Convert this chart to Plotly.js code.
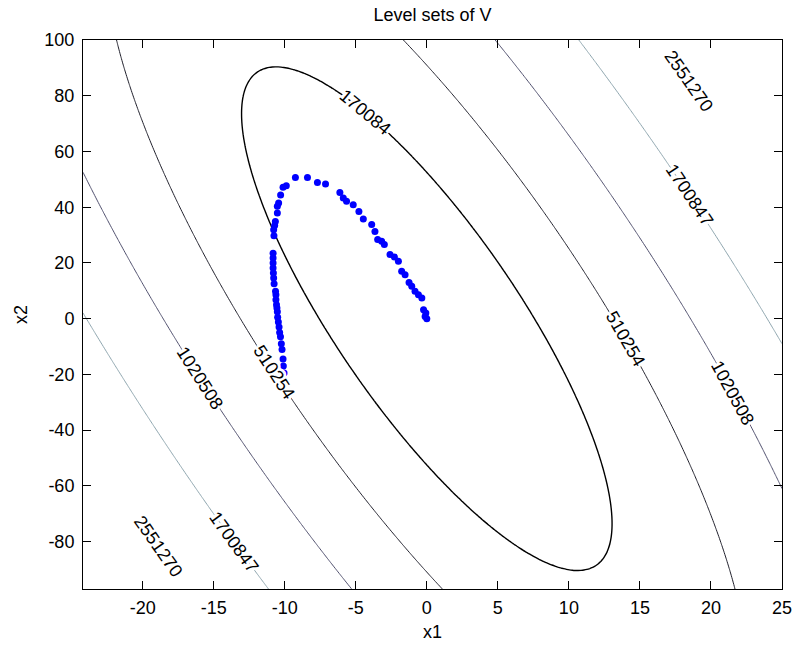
<!DOCTYPE html>
<html>
<head>
<meta charset="utf-8">
<script src="https://cdn.plot.ly/plotly-3.0.1.min.js"></script>
<style>html,body{margin:0;padding:0;background:#fff}#chart{width:792px;height:649px}</style>
</head>
<body>
<div id="chart"></div>
<script>
// Level values of V (as labelled in the chart)
const levels = [170084, 510254, 1020508, 1700847, 2551270];
// Contour line colours (bone colormap picked by level)
const levelColors = ['#000000', '#20202c', '#50506e', '#8fa6af', '#ffffff'];
// Quadratic form V(x) = x' P x, coefficients estimated from the drawn level sets
const P11 = 2963, P12 = 348, P22 = 61.7;
// Axis extents
const x1Range = [-24.2, 25.0005];
const x2Range = [-97, 100.0005];

// Trajectory points
const trajX1 = [-10.05,-10.10,-10.12,-10.19,-10.24,-10.30,-10.36,-10.40,-10.45,-10.50,-10.52,-10.55,-10.58,-10.62,-10.62,-10.65,-10.75,-10.78,-10.80,-10.82,-10.82,-10.82,-10.82,-10.76,-10.78,-10.71,-10.66,-10.52,-10.52,-10.43,-10.29,-10.12,-9.89,-9.25,-8.40,-7.70,-7.13,-6.12,-5.88,-5.65,-5.18,-4.78,-4.47,-3.88,-3.65,-3.46,-3.18,-2.99,-2.59,-2.28,-2.00,-1.77,-1.53,-1.25,-1.06,-0.83,-0.59,-0.35,-0.23,-0.07,-0.12,0.0];
const trajX2 = [-19.5,-17.0,-14.5,-11.1,-9.0,-6.5,-5.0,-3.0,-1.2,0.5,2.5,3.8,5.0,6.8,8.6,9.8,12.5,14.6,16.4,18.2,20.0,21.8,23.5,29.8,31.9,33.4,34.9,37.9,40.3,41.5,44.4,47.2,47.7,50.7,50.7,48.9,48.3,45.3,43.3,42.1,40.9,38.5,35.8,33.8,31.3,28.4,27.8,26.6,23.0,22.1,20.6,17.0,15.8,13.0,11.6,9.8,8.6,7.4,3.2,2.0,0.8,0.0];

const xTicks = [-20,-15,-10,-5,0,5,10,15,20,25];
const yTicks = [-80,-60,-40,-20,0,20,40,60,80,100];

// Which level each contour label belongs to, and roughly where it sits
const labelLevel = [0, 1, 1, 2, 2, 3, 3, 4, 4];
const labelNearX1 = [-4.3, 13.2, -10.97, 20.8, -16.3, 18.05, -13.66, 18.1, -19.0];
const labelNearX2 = [73.0, -7.0, -19.6, -25.6, -21.7, 43.2, -80.5, 83.8, -82.0];

const W = 792, H = 649, M = {l: 83, r: 10, t: 40, b: 60};
const fontFam = 'Liberation Sans, Arial, Helvetica, sans-serif';
const FS = 18;
const halo = ['3px 0 0 #fff','-3px 0 0 #fff','0 3px 0 #fff','0 -3px 0 #fff',
              '2px 2px 0 #fff','-2px -2px 0 #fff','2px -2px 0 #fff','-2px 2px 0 #fff',
              '0 0 3px #fff'].join(', ');

const V = (x, y) => P11*x*x + 2*P12*x*y + P22*y*y;

// grid
const N = 241;
const gx = [], gy = [];
for (let i = 0; i < N; i++) {
  gx.push(x1Range[0] + (x1Range[1]-x1Range[0]) * i/(N-1));
  gy.push(x2Range[0] + (x2Range[1]-x2Range[0]) * i/(N-1));
}
const gz = gy.map(y => gx.map(x => V(x, y)));

const traces = levels.map((L, i) => ({
  type: 'contour',
  x: gx, y: gy, z: gz,
  autocontour: false,
  contours: {start: L, end: L, size: L, coloring: 'none', showlabels: false},
  line: {color: levelColors[i], width: i === 0 ? 1.4 : 1, smoothing: 1},
  showscale: false,
  hoverinfo: 'skip'
}));

traces.push({
  type: 'scatter',
  mode: 'markers',
  x: trajX1, y: trajX2,
  marker: {color: '#0000ff', size: 7},
  hoverinfo: 'skip',
  showlegend: false
});

// contour labels: snap to level curve, rotate along it
const sx = (W - M.l - M.r) / (x1Range[1] - x1Range[0]);
const sy = (H - M.t - M.b) / (x2Range[1] - x2Range[0]);
const annotations = labelLevel.map((li, k) => {
  const L = levels[li];
  const s = Math.sqrt(L / V(labelNearX1[k], labelNearX2[k]));
  const x = labelNearX1[k] * s, y = labelNearX2[k] * s;
  const g1 = 2*(P11*x + P12*y), g2 = 2*(P12*x + P22*y);
  let ang = Math.atan2(g1*sy, g2*sx) * 180 / Math.PI;
  if (ang > 90) ang -= 180;
  if (ang <= -90) ang += 180;
  return {
    xref: 'x', yref: 'y', x: x, y: y, showarrow: false,
    text: String(L), textangle: ang,
    font: {family: fontFam, size: FS, color: '#000', shadow: halo},
    borderpad: 0, xanchor: 'center', yanchor: 'middle'
  };
});

const layout = {
  width: W, height: H,
  margin: M,
  paper_bgcolor: '#fff', plot_bgcolor: '#fff',
  showlegend: false,
  annotations: annotations,
  title: {text: 'Level sets of V', font: {family: fontFam, size: FS, color: '#000'},
          xref: 'paper', x: 0.5, xanchor: 'center', yref: 'container', y: 0.977, yanchor: 'middle'},
  xaxis: {
    range: x1Range, tickvals: xTicks, ticktext: xTicks.map(String),
    ticks: 'inside', ticklen: 8, tickcolor: '#000', mirror: 'ticks',
    showline: true, linecolor: '#000', linewidth: 1, showgrid: false, zeroline: false,
    tickfont: {family: fontFam, size: FS, color: '#000'}, ticklabelstandoff: 2,
    ticklabeloverflow: 'allow',
    title: {text: 'x1', font: {family: fontFam, size: FS, color: '#000'}, standoff: 8}
  },
  yaxis: {
    range: x2Range, tickvals: yTicks, ticktext: yTicks.map(String),
    ticks: 'inside', ticklen: 8, tickcolor: '#000', mirror: 'ticks',
    showline: true, linecolor: '#000', linewidth: 1, showgrid: false, zeroline: false,
    tickfont: {family: fontFam, size: FS, color: '#000'}, ticklabelstandoff: 4,
    ticklabeloverflow: 'allow',
    title: {text: 'x2', font: {family: fontFam, size: FS, color: '#000'}, standoff: 12}
  }
};

Plotly.newPlot('chart', traces, layout, {displayModeBar: false, staticPlot: true});
</script>
</body>
</html>
